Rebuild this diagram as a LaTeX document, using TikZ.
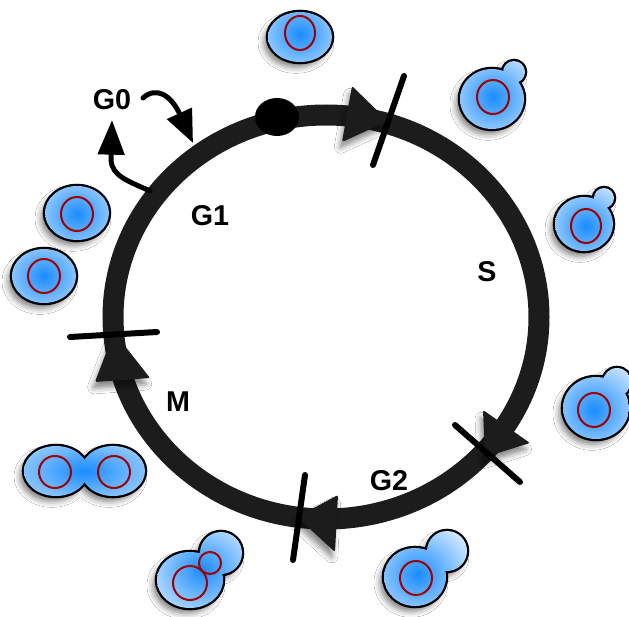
\documentclass[tikz,border=0pt]{standalone}
\usepackage{fontspec}
\setmainfont{Liberation Sans}
\usetikzlibrary{arrows.meta,shadows.blur}

\definecolor{ringgray}{HTML}{1C1C1C}
\definecolor{cellcore}{HTML}{1A8CFF}
\definecolor{celledge}{HTML}{DCEEFF}
\definecolor{nucleus}{HTML}{A00000}

\tikzset{
  ring/.style={draw=ringgray, line width=15.75pt},
  phasetick/.style={draw=black, line width=4.5pt, line cap=round},
  ringarrow/.style={fill=ringgray, rounded corners=1.5pt,
    blur shadow={shadow xshift=-2pt, shadow yshift=-5pt,
      shadow blur radius=4pt, shadow opacity=45}},
  phase/.style={font=\fontsize{21.5}{25}\selectfont\bfseries, inner sep=0pt},
  cellrim/.style={draw=black, line width=3.4pt},
  cellshadow/.style={blur shadow={shadow xshift=-3pt, shadow yshift=-4pt,
      shadow blur radius=4.5pt, shadow opacity=50}},
  nuc/.style={draw=nucleus, line width=1.5pt},
  g0arrow/.style={draw=black, line width=3.75pt, line cap=round},
}

% one yeast cell: #1 outline path, #2 shading centre, #3 shading radii
\newcommand\yeastcell[3]{%
  \path[cellshadow] #1;
  \draw[cellrim] #1;
  \begin{scope}
    \clip #1;
    \shade[inner color=cellcore, outer color=celledge] #2 ellipse [#3];
  \end{scope}%
}

\begin{document}
\begin{tikzpicture}[x=0.75pt, y=-0.75pt]
  \fill[white] (0,0) rectangle (629,617);
  \useasboundingbox (0,0) rectangle (629,617);

  % ---- cells around the cycle ----
  \yeastcell{(300,37) ellipse [x radius=32, y radius=25]}{(300,34)}{x radius=56, y radius=50}
  \draw[nuc] (300,33) ellipse [x radius=15, y radius=17];

  \yeastcell{(492,99) ellipse [x radius=32, y radius=30] (514,72) circle [radius=11]}{(493,97)}{x radius=56, y radius=54}
  \draw[nuc] (493,97) ellipse [x radius=16, y radius=17];

  \yeastcell{(584,224) ellipse [x radius=29, y radius=27] (604,198) circle [radius=10]}{(586,226)}{x radius=52, y radius=50}
  \draw[nuc] (586,226) ellipse [x radius=15, y radius=17];

  \yeastcell{(596,408) ellipse [x radius=33, y radius=31] (617,382) circle [radius=14]}{(594,410)}{x radius=58, y radius=56}
  \draw[nuc] (594,410) ellipse [x radius=16, y radius=17];

  \yeastcell{(415,577) ellipse [x radius=31, y radius=29] (447,551) circle [radius=20]}{(418,574)}{x radius=62, y radius=58}
  \draw[nuc] (416,578) ellipse [x radius=16, y radius=17];

  \yeastcell{(190,580) ellipse [x radius=33, y radius=28] (221,553) circle [radius=21]}{(202,570)}{x radius=64, y radius=58}
  \draw[nuc] (190,583) circle [radius=17];
  \draw[nuc] (210,563) circle [radius=11];

  \yeastcell{(56,471) ellipse [x radius=32, y radius=25] (113,471) ellipse [x radius=32, y radius=25]}{(84,471)}{x radius=110, y radius=50}
  \draw[nuc] (55,472) circle [radius=16];
  \draw[nuc] (114,472) circle [radius=16];

  \yeastcell{(77,213) ellipse [x radius=32, y radius=27]}{(77,214)}{x radius=56, y radius=50}
  \draw[nuc] (77,214) ellipse [x radius=16, y radius=17];

  \yeastcell{(44,276) ellipse [x radius=32, y radius=27]}{(44,276)}{x radius=56, y radius=50}
  \draw[nuc] (44,276) ellipse [x radius=16, y radius=17];

  % ---- the cycle ----
  \draw[ring] (326,317) ellipse [x radius=213, y radius=202];

  % direction heads on the ring
  \path[ringarrow] (352,86) -- (388,121) -- (342,142) -- cycle;
  \path[ringarrow] (483,410) -- (530,443) -- (485,457) -- cycle;
  \path[ringarrow] (338,495) -- (297,517) -- (335,552) -- cycle;
  \path[ringarrow] (114,332) -- (150,378) -- (95,382) -- cycle;

  % phase boundaries
  \draw[phasetick] (404,76) -- (373,165);
  \draw[phasetick] (455,425) -- (520,482);
  \draw[phasetick] (305,475) -- (293,560);
  \draw[phasetick] (70,337) -- (157,332);

  % start point
  \fill[black] (277,117) ellipse [x radius=22, y radius=19];

  % ---- phase labels ----
  \node[phase] (g0) at (112,100) {G0};
  \node[phase] (g1) at (210,216) {G1};
  \node[phase] (s)  at (487,272) {S};
  \node[phase] (m)  at (178,402) {M};
  \node[phase] (g2) at (389,481) {G2};

  % ---- entering and leaving G0 ----
  \coordinate (g0out)   at (143,98);
  \coordinate (ringin)  at (193,143);
  \coordinate (ringout) at (150,191);
  \coordinate (g0in)    at (112,120);
  \draw[g0arrow, -{Triangle[length=24.5pt, width=19.8pt]}]
    (g0out) .. controls (156,86) and (171,95) .. (ringin);
  \draw[g0arrow, -{Triangle[length=26pt, width=19.5pt]}]
    (ringout) .. controls (128,181) and (112,176) .. (111,160) -- (g0in);
\end{tikzpicture}
\end{document}
